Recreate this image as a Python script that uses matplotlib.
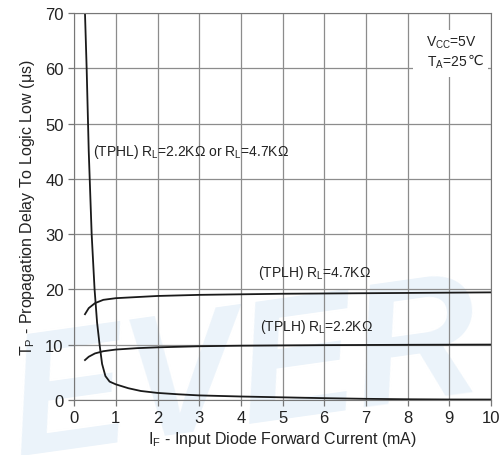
import numpy as np
import matplotlib
matplotlib.use("Agg")
import matplotlib.pyplot as plt
from matplotlib.patches import Rectangle

plt.rcParams['font.family'] = ['Liberation Sans', 'DejaVu Sans']
plt.rcParams['mathtext.fontset'] = 'custom'
plt.rcParams['mathtext.rm'] = 'Liberation Sans'
plt.rcParams['mathtext.it'] = 'Liberation Sans'

# 데이터
tphl_x = [0.26, 0.30, 0.35, 0.42, 0.49, 0.55, 0.61, 0.67, 0.75, 0.85, 1.0, 1.3, 1.6, 2.0, 2.5, 3.0, 4.0, 5.0, 6.0, 7.0, 8.0, 9.0, 10.0]
tphl_y = [70, 60, 45, 30, 20, 14, 10, 6.5, 4.3, 3.3, 2.8, 2.1, 1.6, 1.25, 1.0, 0.8, 0.6, 0.45, 0.3, 0.18, 0.1, 0.06, 0.05]

tplh47_x = [0.26, 0.35, 0.5, 0.7, 1.0, 1.5, 2.0, 3.0, 4.0, 5.0, 6.0, 7.0, 8.0, 9.0, 10.0]
tplh47_y = [15.5, 16.6, 17.5, 18.1, 18.4, 18.6, 18.8, 19.0, 19.1, 19.2, 19.25, 19.3, 19.35, 19.4, 19.45]

tplh22_x = [0.26, 0.35, 0.5, 0.7, 1.0, 1.5, 2.0, 3.0, 4.0, 5.0, 6.0, 7.0, 8.0, 9.0, 10.0]
tplh22_y = [7.2, 7.8, 8.4, 8.8, 9.1, 9.35, 9.5, 9.7, 9.8, 9.85, 9.9, 9.93, 9.96, 9.98, 10.0]

x_ticks = list(range(0, 11))
y_ticks = list(range(0, 71, 10))

fig = plt.figure(figsize=(5.01, 4.56), dpi=100)

# 배경 워터마크 (축 뒤에)
bg = fig.add_axes([0, 0, 1, 1])
bg.axis('off')
bg.text(0.0, 0.0, "EVER", fontsize=125, fontweight='bold', style='italic',
        color='#ebf3fa', rotation=8, transform=bg.transAxes)

ax = fig.add_axes([0.148, 0.121, 0.832, 0.848])
ax.patch.set_alpha(0)

ax.plot(tphl_x, tphl_y, color='#1a1a1a', lw=1.3)
ax.plot(tplh47_x, tplh47_y, color='#1a1a1a', lw=1.3)
ax.plot(tplh22_x, tplh22_y, color='#1a1a1a', lw=1.3)

ax.set_xlim(0, 10)
ax.set_ylim(0, 70)
ax.set_xticks(x_ticks)
ax.set_yticks(y_ticks)
ax.grid(True, color='#8c8c8c', lw=0.9)
for s in ax.spines.values():
    s.set_color('#777777')
ax.tick_params(labelsize=12, colors='#777777', labelcolor='#222222', length=4, width=0.9)

ax.set_xlabel(r"I$_\mathregular{F}$ - Input Diode Forward Current (mA)", fontsize=11.5, color='#222222', labelpad=3)
ax.set_ylabel(r"T$_\mathregular{P}$ - Propagation Delay To Logic Low (μs)", fontsize=11.5, color='#222222', labelpad=6)

ax.text(0.45, 45, r"(TPHL) R$_\mathregular{L}$=2.2KΩ or R$_\mathregular{L}$=4.7KΩ", fontsize=10, va='center', color='#222222')
ax.text(4.4, 23.2, r"(TPLH) R$_\mathregular{L}$=4.7KΩ", fontsize=10, va='center', color='#222222')
ax.text(4.45, 13.3, r"(TPLH) R$_\mathregular{L}$=2.2KΩ", fontsize=10, va='center', color='#222222')

# 조건 표시 (흰 배경)
ax.add_patch(Rectangle((8.13, 58.4), 1.8, 8.5, facecolor='white', edgecolor='none', zorder=2.5))
ax.text(8.44, 64.9, "V$_\\mathregular{CC}$=5V", fontsize=10, ha='left', va='center', color='#222222', zorder=4)
t_a = ax.text(8.47, 61.2, "T$_\\mathregular{A}$=25", fontsize=10, ha='left', va='center', color='#222222', zorder=4)
ax.annotate("℃", xy=(1, 0.5), xycoords=t_a, xytext=(0, 1), textcoords='offset points',
            ha='left', va='center', fontsize=10, color='#222222', family='DejaVu Sans', zorder=4)

fig.savefig("out.png", dpi=100)
